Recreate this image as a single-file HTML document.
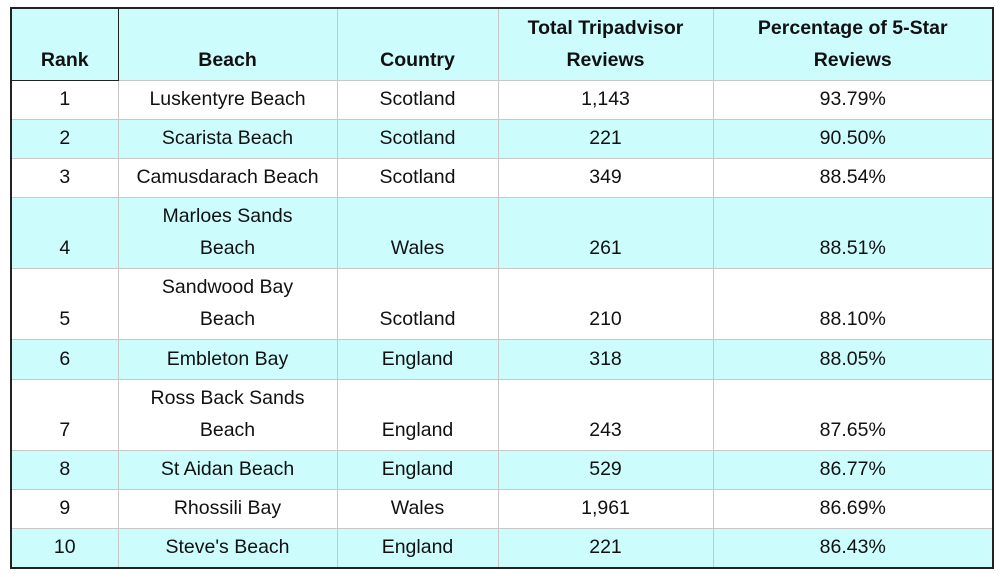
<!DOCTYPE html>
<html><head><style>
body{margin:0;background:#fff;width:1000px;height:577px;overflow:hidden}
table{position:absolute;left:10px;top:7px;border-collapse:collapse;table-layout:fixed;border:2px solid #222;font-family:"Liberation Sans",Arial,sans-serif;font-size:19.5px;color:#111}
td,th{border:1px solid #c8c8c8;text-align:center;vertical-align:bottom;padding:0 4px 4px;line-height:32px;box-sizing:border-box}
th{font-weight:bold;background:#ccfcfc;border-bottom:1px solid #c8c8c8}
th.r{border:1.5px solid #222}
tr.c td{background:#ccfcfc}
</style></head><body>
<table>
<colgroup><col style="width:107px"><col style="width:219px"><col style="width:161px"><col style="width:215px"><col style="width:280px"></colgroup>
<tr style="height:72px"><th class="r">Rank</th><th>Beach</th><th>Country</th><th>Total Tripadvisor<br>Reviews</th><th>Percentage of 5-Star<br>Reviews</th></tr>
<tr style="height:39px"><td>1</td><td>Luskentyre Beach</td><td>Scotland</td><td>1,143</td><td>93.79%</td></tr>
<tr class="c" style="height:39px"><td>2</td><td>Scarista Beach</td><td>Scotland</td><td>221</td><td>90.50%</td></tr>
<tr style="height:39px"><td>3</td><td>Camusdarach Beach</td><td>Scotland</td><td>349</td><td>88.54%</td></tr>
<tr class="c" style="height:71px"><td>4</td><td>Marloes Sands<br>Beach</td><td>Wales</td><td>261</td><td>88.51%</td></tr>
<tr style="height:71px"><td>5</td><td>Sandwood Bay<br>Beach</td><td>Scotland</td><td>210</td><td>88.10%</td></tr>
<tr class="c" style="height:40px"><td>6</td><td>Embleton Bay</td><td>England</td><td>318</td><td>88.05%</td></tr>
<tr style="height:71px"><td>7</td><td>Ross Back Sands<br>Beach</td><td>England</td><td>243</td><td>87.65%</td></tr>
<tr class="c" style="height:39px"><td>8</td><td>St Aidan Beach</td><td>England</td><td>529</td><td>86.77%</td></tr>
<tr style="height:39px"><td>9</td><td>Rhossili Bay</td><td>Wales</td><td>1,961</td><td>86.69%</td></tr>
<tr class="c" style="height:40px"><td>10</td><td>Steve's Beach</td><td>England</td><td>221</td><td>86.43%</td></tr>
</table>
</body></html>
